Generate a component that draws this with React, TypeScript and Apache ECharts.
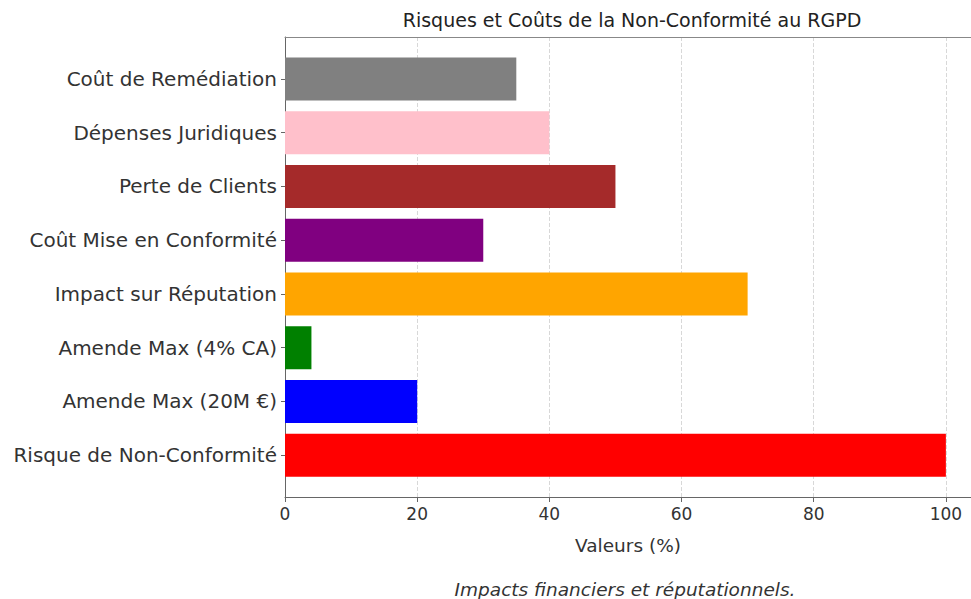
import React, { useEffect, useRef } from "react";
import * as echarts from "echarts";

const categories = [
  "Risque de Non-Conformité",
  "Amende Max (20M €)",
  "Amende Max (4% CA)",
  "Impact sur Réputation",
  "Coût Mise en Conformité",
  "Perte de Clients",
  "Dépenses Juridiques",
  "Coût de Remédiation",
];
const values = [100, 20, 4, 70, 30, 50, 40, 35];
const colors = ["#ff0000", "#0000ff", "#008000", "#ffa500", "#800080", "#a52a2a", "#ffc0cb", "#808080"];
const xTicksInterval = 20;
const xMax = 103.8;

const FONT = "'DejaVu Sans', 'Noto Sans', sans-serif";

export default function App() {
  const ref = useRef<HTMLDivElement>(null);
  useEffect(() => {
    if (!ref.current) return;
    const chart = echarts.init(ref.current, null, { renderer: "svg" });
    chart.setOption({
      animation: false,
      backgroundColor: "#ffffff",
      textStyle: { fontFamily: FONT },
      title: [
        {
          text: "Risques et Coûts de la Non-Conformité au RGPD",
          left: 627,
          top: 5,
          textAlign: "center",
          textStyle: { fontSize: 19, fontWeight: "normal", color: "#222", fontFamily: FONT },
        },
        {
          text: "Impacts financiers et réputationnels.",
          left: 620,
          top: 573,
          textAlign: "center",
          textStyle: { fontSize: 18.5, fontWeight: "normal", fontStyle: "italic", color: "#333", fontFamily: FONT, lineHeight: 22 },
        },
      ],
      grid: [
        { left: 285, width: 686, top: 52, height: 430, show: false },
        { left: 285, width: 686, top: 37, height: 460, show: false },
      ],
      xAxis: [
        { gridIndex: 0, type: "value", min: 0, max: xMax, show: false },
        {
          gridIndex: 1,
          type: "value",
          min: 0,
          max: xMax,
          interval: xTicksInterval,
          name: "Valeurs (%)",
          nameLocation: "middle",
          nameGap: 39,
          nameTextStyle: { fontSize: 18.5, color: "#333", fontFamily: FONT },
          axisLine: { show: true, lineStyle: { color: "#666" } },
          axisTick: { show: true, length: 5, lineStyle: { color: "#666" } },
          axisLabel: { fontSize: 17, color: "#333", margin: 8, showMaxLabel: false, fontFamily: FONT },
          splitLine: { show: true, lineStyle: { color: "#d8d8d8", type: "dashed" } },
        },
        {
          gridIndex: 1,
          type: "value",
          position: "top",
          min: 0,
          max: xMax,
          axisLine: { show: true, lineStyle: { color: "#888" } },
          axisTick: { show: false },
          axisLabel: { show: false },
          splitLine: { show: false },
        },
      ],
      yAxis: [
        {
          gridIndex: 0,
          type: "category",
          data: categories,
          axisLine: { show: false },
          axisTick: { show: true, alignWithLabel: true, length: 4, lineStyle: { color: "#666" } },
          axisLabel: { fontSize: 20, color: "#333", margin: 8, fontFamily: FONT },
          splitLine: { show: false },
        },
        {
          gridIndex: 1,
          type: "value",
          min: 0,
          max: 1,
          axisLine: { show: true, lineStyle: { color: "#666" } },
          axisTick: { show: false },
          axisLabel: { show: false },
          splitLine: { show: false },
        },
      ],
      series: [
        {
          type: "bar",
          xAxisIndex: 0,
          yAxisIndex: 0,
          barWidth: 43,
          data: values.map((v, i) => ({ value: v, itemStyle: { color: colors[i] } })),
        },
      ],
    });
    return () => chart.dispose();
  }, []);
  return <div ref={ref} style={{ width: 971, height: 599, position: "absolute", left: 0, top: 0 }} />;
}
